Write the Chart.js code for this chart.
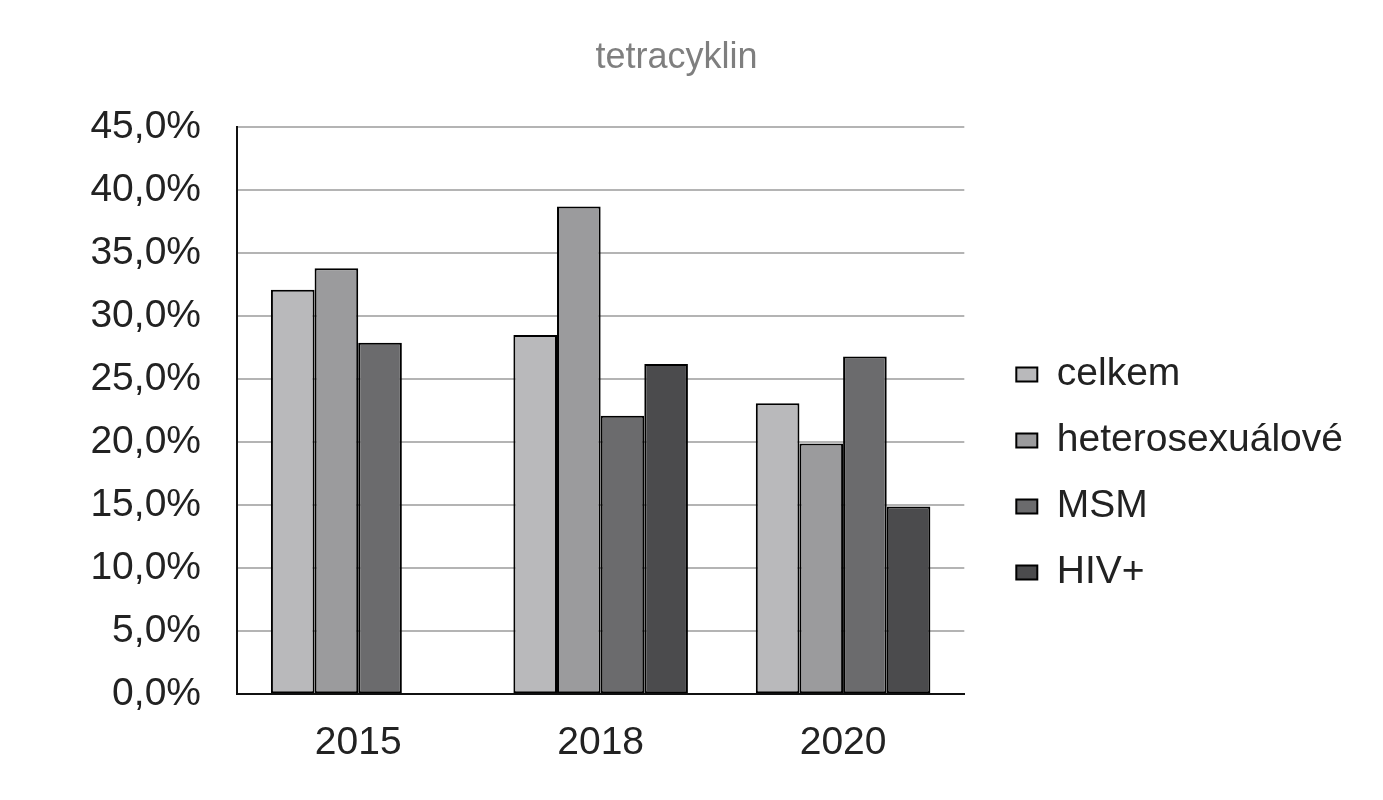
<!DOCTYPE html>
<html>
<head>
<meta charset="utf-8">
<script src="https://cdn.jsdelivr.net/npm/chart.js@4/dist/chart.umd.min.js"></script>
<style>
  html, body { margin:0; padding:0; background:#fff; }
  #wrap { width:1383px; height:800px; position:relative; }
</style>
</head>
<body>
<div id="wrap"><canvas id="chart"></canvas></div>
<script>
// data
const years = ['2015', '2018', '2020'];
const celkem = [32.1, 28.5, 23.1];
const heterosexualove = [33.8, 38.7, 19.9];
const msm = [27.9, 22.1, 26.8];
const hivPlus = [null, 26.2, 14.9];
const seriesNames = ['celkem', 'heterosexuálové', 'MSM', 'HIV+'];
const seriesColors = ['#b9b9bb', '#9b9b9d', '#6b6b6d', '#4b4b4d'];

const FONT = 'Arial, "Liberation Sans", sans-serif';

const datasets = [celkem, heterosexualove, msm, hivPlus].map((vals, i) => ({
  label: seriesNames[i],
  data: vals,
  backgroundColor: seriesColors[i],
  borderColor: '#000',
  borderWidth: 2,
  borderSkipped: false,
  categoryPercentage: 0.72,
  barPercentage: 1.0
}));

new Chart(document.getElementById('chart'), {
  type: 'bar',
  data: { labels: years, datasets },
  options: {
    responsive: true,
    maintainAspectRatio: false,
    animation: false,
    layout: { padding: { left: 0, right: 30, top: 0, bottom: 15 } },
    plugins: {
      title: {
        display: true, text: 'tetracyklin', color: '#7f7f7f',
        font: { family: FONT, size: 36, weight: 'normal' },
        padding: { top: 36, bottom: 48 }
      },
      legend: {
        position: 'right', align: 'center', maxWidth: 420,
        // empty legend title only pushes the items down a bit
        title: { display: true, text: '', font: { size: 10 }, padding: { top: 150, bottom: 0 } },
        labels: {
          color: '#222', boxWidth: 21, boxHeight: 14, padding: 27,
          font: { family: FONT, size: 39 }
        }
      },
      tooltip: { enabled: false }
    },
    scales: {
      x: {
        grid: { display: false },
        border: { color: '#111', width: 2 },
        ticks: { color: '#222', padding: 18, font: { family: FONT, size: 39 } }
      },
      y: {
        min: 0, max: 45,
        afterFit: s => { s.width = 237; },
        grid: { color: '#b4b4b4', lineWidth: 2, drawTicks: false },
        border: { color: '#111', width: 2 },
        ticks: {
          stepSize: 5, color: '#222', padding: 36,
          font: { family: FONT, size: 39 },
          callback: v => v.toFixed(1).replace('.', ',') + '%'
        }
      },
      gap: {
        position: 'right', display: true,
        afterFit: s => { s.width = 25; },
        grid: { display: false }, border: { display: false },
        ticks: { display: false }
      }
    }
  }
});
</script>
</body>
</html>
